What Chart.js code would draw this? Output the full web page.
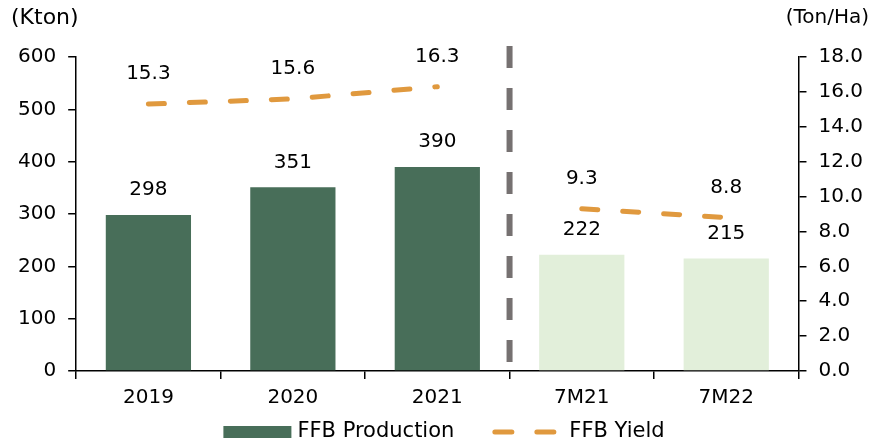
<!DOCTYPE html>
<html>
<head>
<meta charset="utf-8">
<script src="https://cdn.jsdelivr.net/npm/chart.js@4/dist/chart.umd.min.js"></script>
<style>
  html, body { margin: 0; padding: 0; background: #fff; }
  #wrap { width: 877px; height: 446px; }
</style>
</head>
<body>
<div id="wrap"><canvas id="chart-ffb" width="877" height="446"></canvas></div>
<script>
const categories = ['2019', '2020', '2021', '7M21', '7M22'];
const production = [298, 351, 390, 222, 215];   // Kton
const yieldPerHa = [15.3, 15.6, 16.3, 9.3, 8.8]; // Ton/Ha
const barColors = ['#486e59', '#486e59', '#486e59', '#e2efda', '#e2efda'];

const FONT = 'DejaVu Sans';
const DARK = '#486e59';
const ORANGE = '#e0993e';
const tickFont = { family: FONT, size: 20 };

// value labels, unit titles, legend and the dashed divider after 2021
const extras = {
  id: 'extras',
  afterDatasetsDraw(chart) {
    const ctx = chart.ctx;
    const x = chart.scales.x;
    const area = chart.chartArea;

    // divider between full years and 7M periods
    const divX = (x.getPixelForValue(2) + x.getPixelForValue(3)) / 2;
    ctx.save();
    ctx.strokeStyle = '#767171';
    ctx.lineWidth = 6;
    ctx.setLineDash([22, 20]);
    ctx.beginPath();
    ctx.moveTo(divX, area.top - 11);
    ctx.lineTo(divX, area.bottom - 8);
    ctx.stroke();
    ctx.restore();

    ctx.save();
    ctx.font = '20px "' + FONT + '"';
    ctx.fillStyle = '#000';
    ctx.textAlign = 'center';
    ctx.textBaseline = 'middle';
    chart.getDatasetMeta(0).data.forEach((bar, i) => {
      ctx.fillText(String(production[i]), bar.x, bar.y - 25);
    });
    chart.getDatasetMeta(1).data.forEach((pt, i) => {
      ctx.fillText(yieldPerHa[i].toFixed(1), pt.x, pt.y - 30);
    });

    ctx.textAlign = 'right';
    ctx.fillText('(Ton/Ha)', 869, 18);
    ctx.font = '22px "' + FONT + '"';
    ctx.textAlign = 'left';
    ctx.fillText('(Kton)', 11, 18);

    // legend
    ctx.font = '21px "' + FONT + '"';
    const t1 = chart.data.datasets[0].label;
    const t2 = chart.data.datasets[1].label;
    const w1 = ctx.measureText(t1).width;
    const w2 = ctx.measureText(t2).width;
    const total = 68 + 6 + w1 + 38 + 64 + 13 + w2;
    let lx = 444 - total / 2;
    const ly = 432;
    ctx.fillStyle = DARK;
    ctx.fillRect(lx, ly - 6, 68, 12);
    lx += 74;
    ctx.fillStyle = '#000';
    ctx.fillText(t1, lx, ly);
    lx += w1 + 38;
    ctx.strokeStyle = ORANGE;
    ctx.lineWidth = 5;
    ctx.lineCap = 'round';
    ctx.setLineDash([17, 25]);
    ctx.beginPath();
    ctx.moveTo(lx + 2.5, ly);
    ctx.lineTo(lx + 62, ly);
    ctx.stroke();
    lx += 64 + 13;
    ctx.fillText(t2, lx, ly);
    ctx.restore();
  }
};

new Chart(document.getElementById('chart-ffb'), {
  data: {
    labels: categories,
    datasets: [{
      type: 'bar',
      label: 'FFB Production',
      data: production,
      backgroundColor: barColors,
      borderWidth: 0,
      yAxisID: 'y',
      barPercentage: 0.59,
      categoryPercentage: 1.0
    },
    {
      type: 'line',
      label: 'FFB Yield',
      data: yieldPerHa,
      borderColor: ORANGE,
      backgroundColor: ORANGE,
      borderWidth: 5,
      borderDash: [16, 25],
      borderCapStyle: 'round',
      pointRadius: 0,
      tension: 0,
      yAxisID: 'y1',
      segment: {
        borderColor: c => c.p0DataIndex === 2 ? 'rgba(0,0,0,0)' : undefined
      }
    }]
  },
  options: {
    responsive: false,
    animation: false,
    layout: { padding: { top: 57, left: 6, right: 2, bottom: 29 } },
    plugins: {
      title: { display: false },
      tooltip: { enabled: false },
      legend: { display: false }
    },
    scales: {
      x: {
        offset: true,
        grid: { offset: true, drawOnChartArea: false, tickLength: 8, color: '#000', lineWidth: 1.5 },
        border: { color: '#000', width: 1.5 },
        ticks: { color: '#000', font: tickFont, padding: 7 }
      },
      y: {
        position: 'left',
        min: 0,
        max: 600,
        grid: { drawOnChartArea: false, tickLength: 8, color: '#000', lineWidth: 1.5 },
        border: { color: '#000', width: 1.5 },
        ticks: { stepSize: 100, color: '#000', font: tickFont, padding: 12 }
      },
      y1: {
        position: 'right',
        min: 0,
        max: 18,
        grid: { drawOnChartArea: false, tickLength: 8, color: '#000', lineWidth: 1.5 },
        border: { color: '#000', width: 1.5 },
        ticks: { stepSize: 2, color: '#000', font: tickFont, padding: 12, callback: v => v.toFixed(1) }
      }
    }
  },
  plugins: [extras]
});
</script>
</body>
</html>
